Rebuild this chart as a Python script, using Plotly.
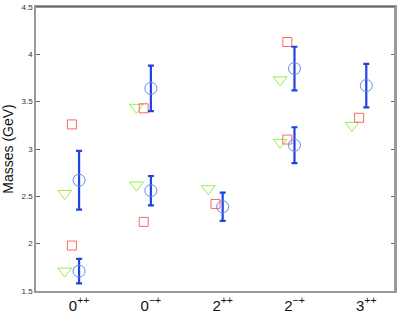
import plotly.graph_objects as go

categories = ["0<sup>++</sup>", "0<sup>\u2212+</sup>", "2<sup>++</sup>", "2<sup>\u2212+</sup>", "3<sup>++</sup>"]
cat_pos = [1, 2, 3, 4, 5]

# lattice results (blue circles with error bars)
lat_x = [1, 1, 2, 2, 3, 4, 4, 5]
lat_y = [2.67, 1.71, 3.64, 2.56, 2.39, 3.85, 3.04, 3.67]
lat_err = [0.31, 0.13, 0.24, 0.155, 0.15, 0.23, 0.19, 0.23]

# model A (red squares)
sq_x = [1, 1, 2, 2, 3, 4, 4, 5]
sq_y = [3.26, 1.98, 3.43, 2.23, 2.42, 4.13, 3.10, 3.33]

# model B (green triangles)
tri_x = [1, 1, 2, 2, 3, 4, 4, 5]
tri_y = [2.53, 1.71, 3.44, 2.62, 2.58, 3.73, 3.07, 3.25]

sq_offset = -0.1
tri_offset = -0.2

fig = go.Figure()
fig.add_trace(go.Scatter(
    x=[v + tri_offset for v in tri_x], y=tri_y, mode="markers",
    marker=dict(symbol="triangle-down-open", size=12, color="#99ee44", line=dict(width=1)),
    showlegend=False))
fig.add_trace(go.Scatter(
    x=[v + sq_offset for v in sq_x], y=sq_y, mode="markers",
    marker=dict(symbol="square-open", size=9, color="#ff6666", line=dict(width=1)),
    showlegend=False))
fig.add_trace(go.Scatter(
    x=lat_x, y=lat_y, mode="markers",
    marker=dict(size=1, color="rgba(0,0,0,0)"),
    error_y=dict(type="data", array=lat_err, visible=True, color="#2244dd", thickness=2.2, width=3),
    showlegend=False))
fig.add_trace(go.Scatter(
    x=lat_x, y=lat_y, mode="markers",
    marker=dict(symbol="circle-open", size=12, color="#6688ee", line=dict(width=1)),
    showlegend=False))

fig.add_shape(type="line", xref="paper", yref="paper", x0=0, x1=1, y0=1, y1=1,
              line=dict(color="#333333", width=1))
fig.add_shape(type="line", xref="paper", yref="paper", x0=1, x1=1, y0=0, y1=1,
              line=dict(color="#999999", width=2))

fig.update_layout(
    width=399, height=313,
    margin=dict(l=36, r=4, t=7, b=22),
    paper_bgcolor="white", plot_bgcolor="white",
    font=dict(family="Liberation Sans, Arial, sans-serif", color="#111111"),
    xaxis=dict(range=[0.4, 5.4], tickvals=cat_pos, ticktext=categories, automargin=False,
               showgrid=False, zeroline=False, showline=True, linecolor="#999999", linewidth=1.5,
               mirror=True, ticks="", tickfont=dict(size=15, color="#111111")),
    yaxis=dict(range=[1.5, 4.5], tickvals=[1.5, 2, 2.5, 3, 3.5, 4, 4.5], automargin=False,
               ticktext=["1.5", "2", "2.5", "3", "3.5", "4", "4.5"],
               showgrid=False, zeroline=False, showline=True, linecolor="#999999", linewidth=1.5,
               mirror="ticks", ticks="inside", ticklen=4, tickcolor="#666666",
               tickfont=dict(size=8, color="#333333"),
               title=dict(text="Masses (GeV)", font=dict(size=14, color="#111111"))),
)

fig.write_html("out.html", config={"displayModeBar": False},
               post_script="document.body.style.margin='0';document.body.style.overflow='hidden';")
